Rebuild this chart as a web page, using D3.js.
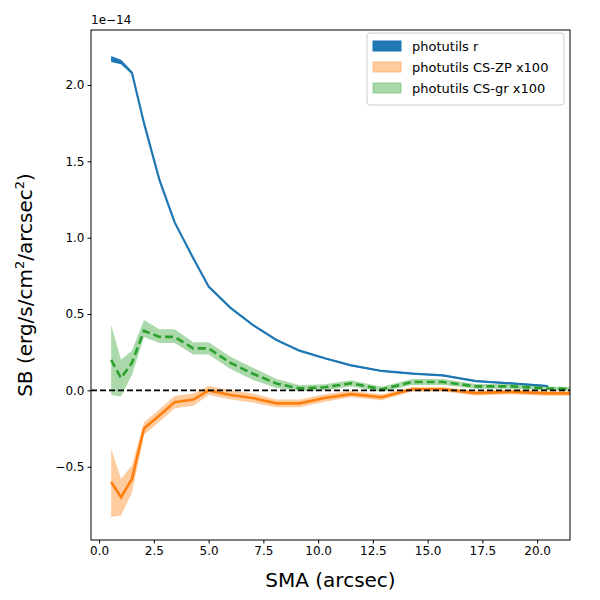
<!DOCTYPE html>
<html><head><meta charset="utf-8">
<script src="https://cdn.jsdelivr.net/npm/d3@7"></script>
<style>body{margin:0;background:#fff}text{font-family:"DejaVu Sans",sans-serif}</style>
</head><body><svg id="c" width="600" height="600"></svg>
<script>
const sma = [0.55,1.0,1.5,2.05,2.75,3.45,4.3,5.0,6.0,7.0,8.1,9.15,10.3,11.5,12.9,14.3,15.7,17.2,18.8,20.5,22.3];
const blue = [2.17,2.15,2.08,1.75,1.38,1.10,0.865,0.68,0.54,0.43,0.33,0.26,0.21,0.164,0.127,0.11,0.098,0.061,0.046,0.028];
const blueErr = [0.02,0.015,0.01,0.008,0.006,0.005,0.005,0.005,0.005,0.005,0.005,0.005,0.005,0.005,0.005,0.005,0.005,0.005,0.005,0.005];
const green = [0.2,0.08,0.18,0.39,0.35,0.35,0.275,0.275,0.18,0.11,0.045,0.013,0.02,0.046,0.007,0.055,0.055,0.026,0.026,0.013,0.007];
const greenLo = [-0.03,-0.04,0.1,0.35,0.31,0.31,0.235,0.235,0.14,0.07,0.015,-0.005,0.0,0.026,-0.01,0.035,0.035,0.01,0.01,0.0,-0.005];
const greenHi = [0.43,0.2,0.26,0.46,0.40,0.40,0.315,0.315,0.22,0.15,0.075,0.035,0.04,0.066,0.024,0.075,0.075,0.042,0.042,0.026,0.019];
const orange = [-0.60,-0.70,-0.58,-0.25,-0.165,-0.077,-0.06,0.0,-0.03,-0.05,-0.085,-0.085,-0.05,-0.025,-0.045,0.007,0.007,-0.018,-0.01,-0.02,-0.02];
const orangeLo = [-0.83,-0.82,-0.67,-0.29,-0.205,-0.117,-0.1,-0.03,-0.06,-0.08,-0.11,-0.11,-0.075,-0.045,-0.065,-0.008,-0.008,-0.033,-0.025,-0.035,-0.035];
const orangeHi = [-0.38,-0.58,-0.49,-0.21,-0.125,-0.037,-0.02,0.03,0.0,-0.02,-0.06,-0.06,-0.025,-0.005,-0.025,0.022,0.022,-0.003,0.005,-0.005,-0.005];
const xTicks = [0,2.5,5,7.5,10,12.5,15,17.5,20];
const yTicks = [-0.5,0,0.5,1,1.5,2];
const legendLabels = ["photutils r","photutils CS-ZP x100","photutils CS-gr x100"];

const svg = d3.select("#c");
const L=91,R=570,T=30,B=540;
const x = d3.scaleLinear().domain([-0.37,21.5]).range([L,R]);
const y = d3.scaleLinear().domain([-0.98,2.36]).range([B,T]);
const clip = svg.append("clipPath").attr("id","cp").append("rect").attr("x",L).attr("y",T).attr("width",R-L).attr("height",B-T);
const g = svg.append("g").attr("clip-path","url(#cp)");
const area = (lo,hi)=>d3.area().x((d,i)=>x(sma[i])).y0((d,i)=>y(lo[i])).y1((d,i)=>y(hi[i]));
const line = d3.line().x((d,i)=>x(sma[i])).y(d=>y(d));
g.append("path").datum(blue).attr("d",area(blue.map((v,i)=>v-blueErr[i]),blue.map((v,i)=>v+blueErr[i]))).attr("fill","#1f77b4");
g.append("path").datum(blue).attr("d",line).attr("fill","none").attr("stroke","#1f77b4").attr("stroke-width",2.2);
g.append("path").datum(orange).attr("d",area(orangeLo,orangeHi)).attr("fill","#ff7f0e").attr("opacity",0.4);
g.append("path").datum(orange).attr("d",line).attr("fill","none").attr("stroke","#ff7f0e").attr("stroke-width",2.6);
g.append("path").datum(green).attr("d",area(greenLo,greenHi)).attr("fill","#2ca02c").attr("opacity",0.4);
g.append("path").datum(green).attr("d",line).attr("fill","none").attr("stroke","#2ca02c").attr("stroke-width",2.6).attr("stroke-dasharray","8,4");
g.append("line").attr("x1",L).attr("x2",R).attr("y1",y(0)).attr("y2",y(0)).attr("stroke","#000").attr("stroke-width",1.6).attr("stroke-dasharray","6,3");

const xa = svg.append("g").attr("transform",`translate(0,${B})`).call(d3.axisBottom(x).tickValues(xTicks).tickFormat(d3.format(".1f")).tickSizeOuter(0).tickSize(3.5));
const ya = svg.append("g").attr("transform",`translate(${L},0)`).call(d3.axisLeft(y).tickValues(yTicks).tickFormat(d3.format(".1f")).tickSizeOuter(0).tickSize(3.5));
[xa,ya].forEach(a=>{a.select(".domain").remove();a.selectAll("text").attr("font-size",12).attr("fill","#000");a.selectAll("line").attr("stroke","#000");});
ya.selectAll("text").text(d=>d<0?"\u2212"+Math.abs(d).toFixed(1):d.toFixed(1));
svg.append("rect").attr("x",L).attr("y",T).attr("width",R-L).attr("height",B-T).attr("fill","none").attr("stroke","#000").attr("stroke-width",1);
svg.append("text").attr("x",L).attr("y",T-6).attr("font-size",12).text("1e\u221214");
svg.append("text").attr("x",(L+R)/2).attr("y",587).attr("text-anchor","middle").attr("font-size",20).text("SMA (arcsec)");
const yl = svg.append("text").attr("transform",`translate(32,${(T+B)/2}) rotate(-90)`).attr("text-anchor","middle").attr("font-size",20);
yl.append("tspan").text("SB (erg/s/cm");
yl.append("tspan").attr("font-size",13).attr("dy",-8).text("2");
yl.append("tspan").attr("dy",8).text("/arcsec");
yl.append("tspan").attr("font-size",13).attr("dy",-8).text("2");
yl.append("tspan").attr("dy",8).text(")");

const lg = svg.append("g").attr("transform","translate(367,36)");
lg.append("rect").attr("x",0).attr("y",-3).attr("width",197).attr("height",72).attr("rx",3).attr("fill","#fff").attr("stroke","#ccc");
const cols=[["#1f77b4",1],["#ff7f0e",0.4],["#2ca02c",0.4]];
legendLabels.forEach((t,i)=>{
  const yy=5+i*21;
  lg.append("rect").attr("x",6).attr("y",yy).attr("width",28).attr("height",10).attr("fill",cols[i][0]).attr("fill-opacity",cols[i][1]).attr("stroke",cols[i][0]).attr("stroke-opacity",cols[i][1]);
  lg.append("text").attr("x",45).attr("y",yy+10).attr("font-size",13).text(t);
});
</script></body></html>
